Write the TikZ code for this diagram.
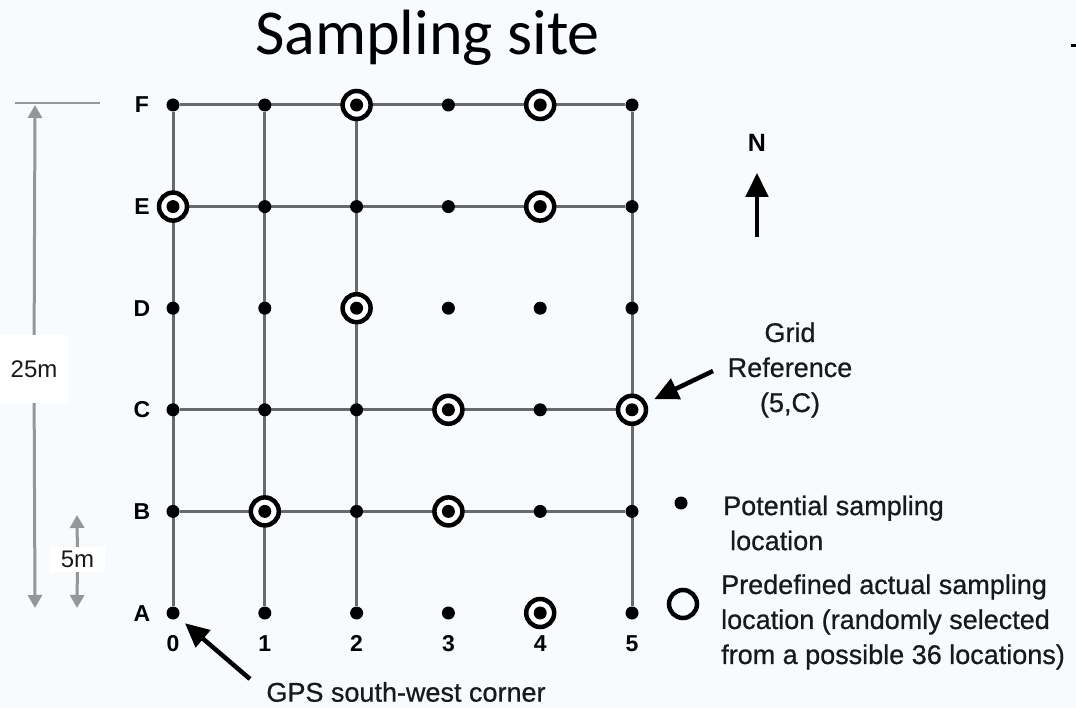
\documentclass[tikz,border=0pt]{standalone}
\usepackage{fontspec}
\setmainfont{Liberation Sans}
\newfontfamily\titlefont{Carlito}
\newfontfamily\heavyfont[FakeBold=0.7]{Liberation Sans}
\usetikzlibrary{arrows.meta, positioning, backgrounds}

\definecolor{paper}{RGB}{247,251,254}
\definecolor{gridgrey}{RGB}{105,105,105}
\definecolor{dimgrey}{RGB}{150,150,150}
\definecolor{ink}{RGB}{25,25,25}

\begin{document}
\begin{tikzpicture}[x = 1pt, y = -1pt,
    site/.style     = {circle, fill = black, inner sep = 0pt, minimum size = 13pt},
    chosen/.style   = {circle, draw = black, fill = white, line width = 4.5pt, inner sep = 0pt, minimum size = 28pt},
    gridline/.style = {draw = gridgrey, line width = 3pt},
    dimline/.style  = {draw = dimgrey, line width = 3pt, -{Triangle[width = 14pt, length = 13pt]}},
    dimlabel/.style = {fill = white, inner sep = 0pt, text = ink, font = \fontsize{24}{28}\selectfont},
    axis/.style     = {inner sep = 0pt, anchor = base, font = \bfseries\fontsize{23}{24}\selectfont},
    pointer/.style  = {draw = black, line width = 4.5pt, -{Triangle[width = 22pt, length = 24pt]}},
    note/.style     = {inner sep = 0pt, text = ink, font = \heavyfont\fontsize{27}{35}\selectfont}]

    \useasboundingbox (0,0) rectangle (1076,708);

    % title
    \node[anchor = base, inner sep = 0pt, font = \titlefont\fontsize{64}{70}\selectfont] (title) at (427.5,55) {Sampling site};
    \draw[line width = 3pt] (1071,46) -- (1076,46);

    % potential sampling locations
    \foreach \row [count = \i from 0] in {A,B,C,D,E,F}
        \foreach \col in {0,...,5}
            \node[site] (\col\row) at ({173+91.8*\col}, {613-101.6*\i}) {};

    % row and column labels
    \foreach \row in {A,B,C,D,E,F}
        \node[axis] (lab\row) at ([xshift = -31pt, yshift = -8pt]0\row) {\row};
    \foreach \col in {0,...,5}
        \node[axis] (lab\col) at ([yshift = -38pt]\col A) {\col};

    \begin{pgfonlayer}{background}
        \fill[paper] (0,0) rectangle (1076,708);
        % grid lines
        \foreach \row in {F,E,C,B}
            \draw[gridline] (0\row) -- (5\row);
        \foreach \col in {0,1,2,5}
            \draw[gridline] (\col F) -- (\col A);
        % actual sampling locations
        \foreach \pos in {2F,4F,0E,4E,2D,3C,5C,1B,3B,4A}
            \node[chosen] at (\pos) {};
    \end{pgfonlayer}

    % dimensions
    \coordinate (tickL) at (15,103);
    \coordinate (tickR) at (100,103);
    \draw[dimgrey, line width = 2.5pt] (tickL) -- (tickR);
    \coordinate (top25) at (35,105);
    \coordinate (bot25) at (35,608);
    \node[dimlabel, minimum width = 68pt, minimum height = 68pt] (len25) at (34,369) {25m};
    \draw[dimline] (len25) -- (top25);
    \draw[dimline] (len25) -- (bot25);
    \coordinate (top5) at (77,515);
    \coordinate (bot5) at (77,608);
    \node[dimlabel, minimum width = 55pt, minimum height = 25pt] (len5) at (77.5,559.5) {5m};
    \draw[dimline] (len5) -- (top5);
    \draw[dimline] (len5) -- (bot5);

    % north arrow
    \node[inner sep = 0pt, font = \bfseries\fontsize{25}{28}\selectfont] (north) at (757,143) {N};
    \coordinate (ntail) at (757,237);
    \draw[pointer, shorten > = 21pt] (ntail) -- (north);

    % grid reference
    \node[note, align = center] (gridref) at (790,370) {Grid\\Reference\\(5,C)};
    \coordinate (reftail) at (713,371);
    \draw[pointer, shorten > = 18pt] (reftail) -- (5C);

    % corner
    \node[note] (gps) at (406,692) {GPS south-west corner};
    \coordinate (gpstail) at (250,679);
    \draw[pointer, shorten > = 9pt] (gpstail) -- (0A);

    % legend
    \node[site] (legdot) at (681,503) {};
    \node[note, anchor = west, align = left] (legpot) at (723,523) {Potential sampling\\\hspace{7pt}location};
    \node[chosen, fill = none] (legring) at (683,604) {};
    \node[note, anchor = west, align = left] (legact) at (721,622) {Predefined actual sampling\\location (randomly selected\\from a possible 36 locations)};
\end{tikzpicture}
\end{document}
